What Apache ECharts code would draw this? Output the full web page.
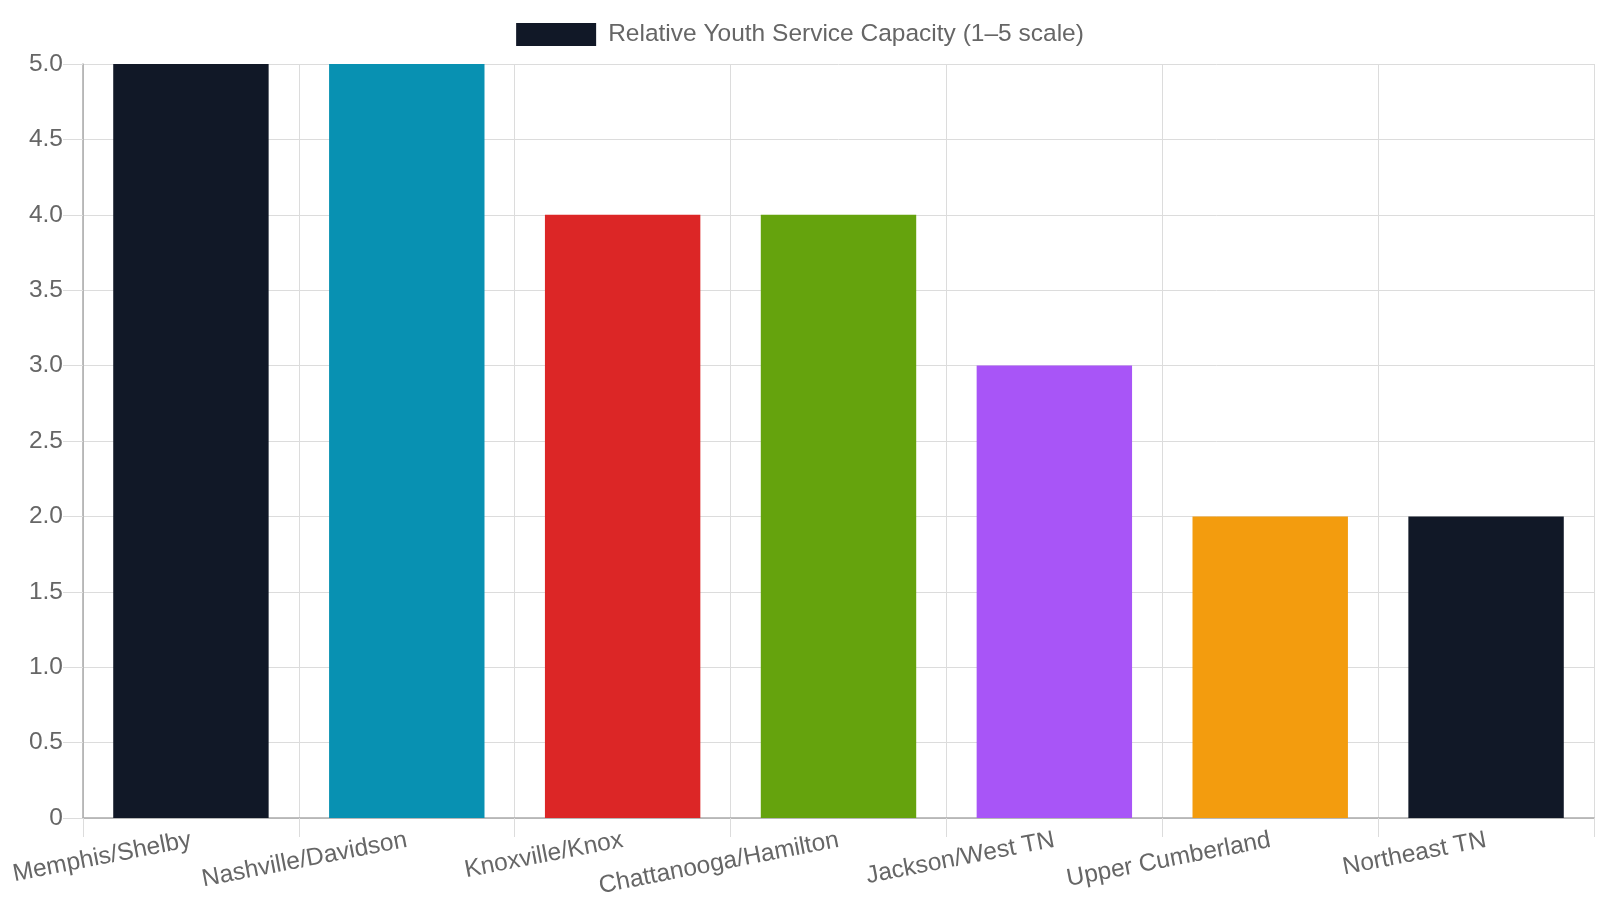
<!DOCTYPE html>
<html>
<head>
<meta charset="utf-8">
<title>Relative Youth Service Capacity</title>
<script src="https://cdn.jsdelivr.net/npm/echarts@6/dist/echarts.min.js"></script>
<style>
  html, body { margin: 0; padding: 0; background: #fff; }
  #chart { width: 1600px; height: 900px; }
</style>
</head>
<body>
<div id="chart"></div>
<script>
const regions = ['Memphis/Shelby', 'Nashville/Davidson', 'Knoxville/Knox', 'Chattanooga/Hamilton', 'Jackson/West TN', 'Upper Cumberland', 'Northeast TN'];
const capacity = [5, 5, 4, 4, 3, 2, 2];
const barColors = ['#111827', '#0891b2', '#dc2626', '#65a30d', '#a855f7', '#f39c0e', '#111827'];
const seriesName = 'Relative Youth Service Capacity (1–5 scale)';

const fontFamily = '"Liberation Sans", Arial, sans-serif';
const fontSize = 24.5;
const textColor = '#666';
const gridColor = '#dcdcdc';
const axisColor = '#aaa';

const chart = echarts.init(document.getElementById('chart'));

chart.setOption({
  animation: false,
  textStyle: { fontFamily },
  legend: {
    top: 17,
    left: 'center',
    icon: 'rect',
    itemWidth: 80,
    itemHeight: 23,
    textStyle: { color: textColor, fontSize, fontFamily, padding: [0, 0, 0, 7] },
    data: [seriesName],
  },
  grid: { left: 83, right: 6, top: 64, bottom: 82, containLabel: false },
  xAxis: {
    type: 'category',
    data: regions,
    axisLine: { lineStyle: { color: axisColor, width: 1.5 } },
    axisTick: { show: true, length: 19, lineStyle: { color: gridColor } },
    splitLine: { show: true, lineStyle: { color: gridColor } },
    axisLabel: {
      color: textColor,
      fontSize,
      fontFamily,
      rotate: 11,
      margin: 22,
      interval: 0,
    },
  },
  yAxis: {
    type: 'value',
    min: 0,
    max: 5,
    interval: 0.5,
    axisLine: { show: true, lineStyle: { color: axisColor, width: 1.5 } },
    axisTick: { show: true, length: 20, lineStyle: { color: gridColor } },
    splitLine: { lineStyle: { color: gridColor } },
    axisLabel: {
      color: textColor,
      fontSize,
      fontFamily,
      margin: 20,
      formatter: (v) => (v === 0 ? '0' : v.toFixed(1)),
    },
  },
  series: [
    {
      name: seriesName,
      type: 'bar',
      barWidth: '72%',
      itemStyle: { color: barColors[0] },
      data: capacity.map((v, i) => ({ value: v, itemStyle: { color: barColors[i] } })),
    },
  ],
});
</script>
</body>
</html>
